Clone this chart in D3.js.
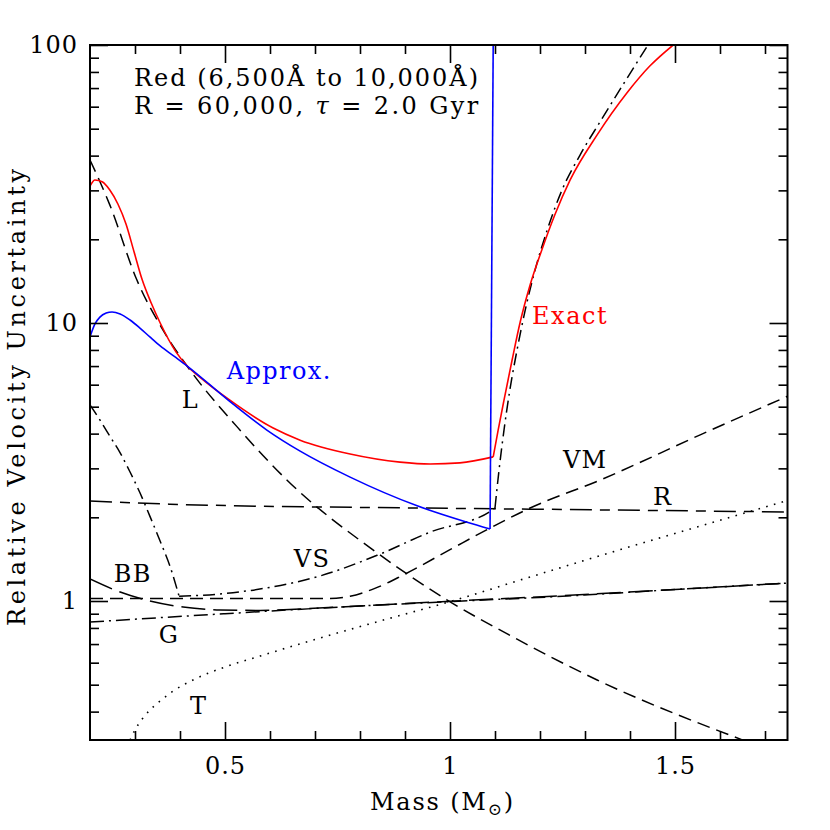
<!DOCTYPE html>
<html>
<head>
<meta charset="utf-8">
<script src="https://cdn.jsdelivr.net/npm/d3@7"></script>
<style>
  body { margin: 0; background: #fff; }
  text { font-family: "DejaVu Serif", serif; }
</style>
</head>
<body>
<div id="chart"></div>
<script>
// [mass (Msun), relative velocity uncertainty]
const exactLow = [[0.200, 31.1], [0.211, 32.7], [0.227, 32.2], [0.244, 30.1], [0.262, 26.8], [0.280, 22.7],
  [0.298, 18.0], [0.316, 14.3], [0.336, 11.8], [0.356, 10.0], [0.391, 7.87], [0.416, 7.0], [0.444, 6.39],
  [0.507, 5.33], [0.607, 4.19], [0.667, 3.79], [0.778, 3.38], [0.889, 3.16], [0.956, 3.11], [1.022, 3.14],
  [1.096, 3.30]];
const exactHigh = [[1.096, 3.30], [1.107, 4.12], [1.120, 5.28], [1.138, 7.36], [1.156, 10.08], [1.178, 13.7],
  [1.204, 18.3], [1.233, 24.5], [1.267, 32.7], [1.327, 47.5], [1.393, 67.2], [1.444, 84.0], [1.496, 100]];
const approxLow = [[0.200, 8.91], [0.211, 9.92], [0.222, 10.5], [0.236, 10.86], [0.249, 10.96], [0.267, 10.78],
  [0.289, 10.25], [0.311, 9.59], [0.333, 8.91], [0.356, 8.27], [0.389, 7.55], [0.416, 7.0], [0.507, 5.28],
  [0.593, 4.12], [0.667, 3.46], [0.778, 2.79], [0.927, 2.20], [1.038, 1.92], [1.089, 1.815]];
const approxJump = [[1.089, 1.815], [1.096, 100]];

const lSeries = [[0.200, 38.6], [0.244, 26.6], [0.304, 14.3], [0.362, 9.44], [0.422, 6.78], [0.527, 4.23],
  [0.638, 2.72], [0.838, 1.49], [0.993, 1.01], [1.140, 0.742], [1.327, 0.520], [1.651, 0.316]];
const vmSeries = [[0.200, 1.02], [0.667, 1.02], [0.733, 1.02], [0.778, 1.04], [0.833, 1.11], [0.896, 1.24],
  [1.000, 1.53], [1.089, 1.83], [1.178, 2.16], [1.333, 2.72], [1.556, 3.96], [1.750, 5.45]];
const rSeries = [[0.200, 2.29], [0.378, 2.23], [0.933, 2.16], [1.178, 2.14], [1.750, 2.09]];
const bbSeries = [[0.200, 1.20], [0.267, 1.077], [0.333, 1.0], [0.407, 0.951], [0.489, 0.928], [0.578, 0.925],
  [0.667, 0.936], [0.800, 0.96], [1.000, 0.998], [1.250, 1.045], [1.500, 1.10], [1.750, 1.16]];
const gSeries = [[0.200, 0.84], [0.350, 0.87], [0.500, 0.90], [0.750, 0.95], [1.000, 0.995], [1.250, 1.04],
  [1.500, 1.10], [1.750, 1.16]];
const vsSteep = [[0.200, 5.07], [0.222, 4.48], [0.244, 3.92], [0.267, 3.41], [0.289, 2.91], [0.311, 2.45],
  [0.333, 2.02], [0.356, 1.64], [0.378, 1.33], [0.398, 1.04]];
const vsSeries = [[0.398, 1.04], [0.489, 1.06], [0.600, 1.12], [0.711, 1.23], [0.838, 1.46], [0.956, 1.77],
  [1.093, 2.12], [1.100, 2.16]];
const vsRise = [[1.100, 2.16], [1.109, 2.96], [1.120, 4.12], [1.133, 5.74], [1.149, 8.0], [1.167, 11.1],
  [1.189, 15.5], [1.216, 21.6], [1.249, 30.1], [1.289, 40.2], [1.333, 52.8], [1.384, 71.8], [1.440, 100]];
const tSeries = [[0.289, 0.316], [0.300, 0.344], [0.316, 0.376], [0.333, 0.405], [0.356, 0.437], [0.382, 0.471],
  [0.429, 0.520], [0.500, 0.579], [0.578, 0.634], [0.696, 0.724], [0.844, 0.847], [1.000, 0.995],
  [1.178, 1.22], [1.378, 1.53], [1.556, 1.86], [1.750, 2.30]];

const xMajorTicks = [0.5, 1, 1.5];
const xMinorTicks = [0.3, 0.4, 0.6, 0.7, 0.8, 0.9, 1.1, 1.2, 1.3, 1.4, 1.6, 1.7];
const yMajorTicks = [1, 10, 100];
const yMinorTicks = [0.4, 0.5, 0.6, 0.7, 0.8, 0.9, 2, 3, 4, 5, 6, 7, 8, 9, 20, 30, 40, 50, 60, 70, 80, 90];

const curveLabels = [
  { text: 'L', m: 0.404, v: 4.95 },
  { text: 'BB', m: 0.253, v: 1.17 },
  { text: 'G', m: 0.353, v: 0.706 },
  { text: 'T', m: 0.422, v: 0.392 },
  { text: 'VS', m: 0.653, v: 1.325 },
  { text: 'VM', m: 1.251, v: 3.01 },
  { text: 'R', m: 1.451, v: 2.21 }
];

const cfg = {
  width: 830, height: 830,
  margin: { top: 45, right: 42.5, bottom: 90, left: 90 },
  major: 18, minor: 9
};

const svg = d3.select('#chart').append('svg')
  .attr('width', cfg.width)
  .attr('height', cfg.height);

const x = d3.scaleLinear().domain([0.2, 1.75])
  .range([cfg.margin.left, cfg.width - cfg.margin.right]);
const y = d3.scaleLog().domain([Math.pow(10, -0.5), 100])
  .range([cfg.height - cfg.margin.bottom, cfg.margin.top]);

const x0 = x.range()[0], x1 = x.range()[1], y0 = y.range()[0], y1 = y.range()[1];

svg.append('clipPath').attr('id', 'plot-clip')
  .append('rect').attr('x', x0).attr('y', y1).attr('width', x1 - x0).attr('height', y0 - y1);

const plot = svg.append('g').attr('clip-path', 'url(#plot-clip)');

const line = d3.line()
  .x(d => x(d[0]))
  .y(d => y(d[1]))
  .curve(d3.curveMonotoneX);

function drawCurve(data, color, dash, width) {
  plot.append('path')
    .datum(data)
    .attr('fill', 'none')
    .attr('stroke', color)
    .attr('stroke-width', width || 1.5)
    .attr('stroke-dasharray', dash)
    .attr('d', line);
}

drawCurve(tSeries, '#000', '1.6,6.4', 1.6);
drawCurve(lSeries, '#000', '13,7');
drawCurve(vmSeries, '#000', '13,7');
drawCurve(rSeries, '#000', '22,8,10,8');
drawCurve(bbSeries, '#000', '24,8');
drawCurve(gSeries, '#000', '14,5,2,5');
drawCurve(vsSteep, '#000', '12,5,2,5');
drawCurve(vsSeries, '#000', '12,5,2,5');
drawCurve(vsRise, '#000', '12,5,2,5');
drawCurve(exactLow, '#ff0000', null, 1.6);
drawCurve(exactHigh, '#ff0000', null, 1.6);
drawCurve(approxLow, '#0000ff', null, 1.6);
drawCurve(approxJump, '#0000ff', null, 1.6);

// axes: ticks pointing inward on all four sides
function styleAxis(g) {
  g.select('.domain').remove();
  g.selectAll('.tick line').attr('stroke', '#000').attr('stroke-width', 1.6);
  g.selectAll('.tick text').attr('font-size', 24).attr('font-family', '"DejaVu Serif", serif')
    .attr('letter-spacing', 1).attr('fill', '#000');
}

svg.append('g').attr('transform', `translate(0,${y0})`)
  .call(d3.axisBottom(x).tickValues(xMajorTicks).tickSize(-cfg.major).tickPadding(17).tickFormat(d3.format('')))
  .call(styleAxis);
svg.append('g').attr('transform', `translate(0,${y0})`)
  .call(d3.axisBottom(x).tickValues(xMinorTicks).tickSize(-cfg.minor).tickFormat(''))
  .call(styleAxis);
svg.append('g').attr('transform', `translate(0,${y1})`)
  .call(d3.axisTop(x).tickValues(xMajorTicks).tickSize(-cfg.major).tickFormat(''))
  .call(styleAxis);
svg.append('g').attr('transform', `translate(0,${y1})`)
  .call(d3.axisTop(x).tickValues(xMinorTicks).tickSize(-cfg.minor).tickFormat(''))
  .call(styleAxis);

svg.append('g').attr('transform', `translate(${x0},0)`)
  .call(d3.axisLeft(y).tickValues(yMajorTicks).tickSize(-cfg.major).tickPadding(12).tickFormat(d3.format('')))
  .call(styleAxis);
svg.append('g').attr('transform', `translate(${x0},0)`)
  .call(d3.axisLeft(y).tickValues(yMinorTicks).tickSize(-cfg.minor).tickFormat(''))
  .call(styleAxis);
svg.append('g').attr('transform', `translate(${x1},0)`)
  .call(d3.axisRight(y).tickValues(yMajorTicks).tickSize(-cfg.major).tickFormat(''))
  .call(styleAxis);
svg.append('g').attr('transform', `translate(${x1},0)`)
  .call(d3.axisRight(y).tickValues(yMinorTicks).tickSize(-cfg.minor).tickFormat(''))
  .call(styleAxis);

svg.append('rect')
  .attr('x', x0).attr('y', y1)
  .attr('width', x1 - x0).attr('height', y0 - y1)
  .attr('fill', 'none').attr('stroke', '#000').attr('stroke-width', 2);

// axis titles
const xTitle = svg.append('text')
  .attr('x', 370)
  .attr('y', 810)
  .attr('font-size', 24)
  .attr('letter-spacing', 1.8)
  .text('Mass (M');
xTitle.append('tspan').attr('font-size', 17).attr('dy', 5).text('⊙');
xTitle.append('tspan').attr('dy', -5).text(')');

svg.append('text')
  .attr('transform', `translate(25,${(y0 + y1) / 2 + 5}) rotate(-90)`)
  .attr('text-anchor', 'middle')
  .attr('font-size', 24)
  .attr('textLength', 457)
  .attr('lengthAdjust', 'spacing')
  .text('Relative Velocity Uncertainty');

// header
svg.append('text')
  .attr('x', 134).attr('y', 86)
  .attr('font-size', 24)
  .attr('textLength', 344)
  .attr('lengthAdjust', 'spacing')
  .text('Red (6,500Å to 10,000Å)');
const sub = svg.append('text')
  .attr('x', 134).attr('y', 114)
  .attr('font-size', 24)
  .attr('letter-spacing', 2.4)
  .text('R = 60,000, ');
sub.append('tspan').attr('font-style', 'italic').text('τ');
sub.append('tspan').text(' = 2.0 Gyr');

// curve labels
svg.append('text')
  .attr('x', x(0.504)).attr('y', y(6.29))
  .attr('font-size', 24).attr('fill', '#0000ff')
  .attr('letter-spacing', 1.4)
  .text('Approx.');
svg.append('text')
  .attr('x', x(1.182)).attr('y', y(9.92))
  .attr('font-size', 24).attr('fill', '#ff0000')
  .attr('letter-spacing', 1.6)
  .text('Exact');

svg.selectAll('text.curve-label')
  .data(curveLabels)
  .enter()
  .append('text')
  .attr('class', 'curve-label')
  .attr('x', d => x(d.m))
  .attr('y', d => y(d.v))
  .attr('font-size', 24)
  .attr('letter-spacing', 1.2)
  .text(d => d.text);
</script>
</body>
</html>
